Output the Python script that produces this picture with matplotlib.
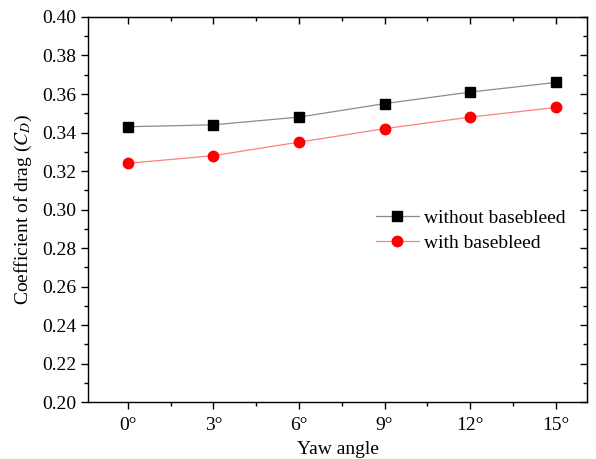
import numpy as np
import matplotlib.pyplot as plt
from matplotlib.ticker import MultipleLocator

# data
yaw = [0, 3, 6, 9, 12, 15]
yaw_labels = ["0°", "3°", "6°", "9°", "12°", "15°"]
cd_without = [0.343, 0.344, 0.348, 0.355, 0.361, 0.366]
cd_with = [0.324, 0.328, 0.335, 0.342, 0.348, 0.353]

plt.rcParams['font.family'] = ['Liberation Serif', 'DejaVu Serif']
plt.rcParams['mathtext.fontset'] = 'stix'

fig = plt.figure(figsize=(5.96, 4.59), dpi=100)
ax = fig.add_axes([0.1477, 0.124, 0.8373, 0.839])

ax.plot(yaw, cd_without, color='#8c8c8c', lw=0.9, marker='s', ms=7,
        mfc='black', mec='black', label='without basebleed')
ax.plot(yaw, cd_with, color='#ff8080', lw=0.9, marker='o', ms=7.5,
        mfc='red', mec='red', label='with basebleed')

ax.set_xlim(-1.4, 16.1)
ax.set_ylim(0.20, 0.40)
ax.set_xticks(yaw)
ax.set_xticklabels(yaw_labels)
ax.xaxis.set_minor_locator(MultipleLocator(1.5))
ax.yaxis.set_major_locator(MultipleLocator(0.02))
ax.yaxis.set_minor_locator(MultipleLocator(0.01))
ax.yaxis.set_major_formatter(plt.FormatStrFormatter('%.2f'))

ax.tick_params(which='both', direction='out', labelsize=14, width=1.0)
ax.tick_params(which='major', length=5)
ax.tick_params(which='minor', length=3)
ax.tick_params(axis='x', which='major', pad=6)

# mirrored ticks inside on top and right
axt = ax.secondary_xaxis('top')
axt.set_xticks(yaw)
axt.xaxis.set_minor_locator(MultipleLocator(1.5))
axt.tick_params(which='both', direction='in', labeltop=False, width=1.0)
axt.tick_params(which='major', length=5)
axt.tick_params(which='minor', length=3)
axr = ax.secondary_yaxis('right')
axr.yaxis.set_major_locator(MultipleLocator(0.02))
axr.yaxis.set_minor_locator(MultipleLocator(0.01))
axr.tick_params(which='both', direction='in', labelright=False, width=1.0)
axr.tick_params(which='major', length=5)
axr.tick_params(which='minor', length=3)

for s in ax.spines.values():
    s.set_linewidth(1.0)

ax.set_xlabel('Yaw angle', fontsize=14, labelpad=5)
ax.set_ylabel(r'Coefficient of drag ($C_D$)', fontsize=14, labelpad=6)

ax.legend(loc='upper left', bbox_to_anchor=(0.55, 0.535), frameon=False,
          fontsize=14, handlelength=2.2, handletextpad=0.25, labelspacing=0.35,
          borderpad=0.2)

fig.savefig('out.png', dpi=100)
